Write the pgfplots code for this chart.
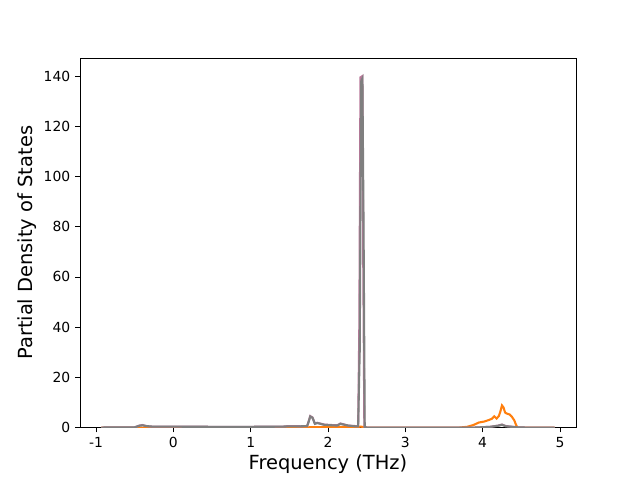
\documentclass[border=0pt]{standalone}
\usepackage{pgfplots}
\pgfplotsset{compat=1.18}
\usepackage{fontspec}
\setmainfont{DejaVu Sans}
\definecolor{mplorange}{HTML}{FF7F0E}
\definecolor{mplgray}{HTML}{7F7F7F}
\definecolor{mplpink}{HTML}{B9789A}
\begin{document}
\begin{tikzpicture}
\begin{axis}[
  scale only axis, width=357pt, height=266pt,
  xmin=-1.207, xmax=5.207, ymin=0, ymax=147.2,
  xtick={-1,0,1,2,3,4,5}, ytick={0,20,40,60,80,100,120,140},
  tick align=outside, tick style={black, line width=0.6pt},
  major tick length=3.5pt,
  xtick pos=bottom, ytick pos=left,
  tick label style={font=\fontsize{10}{12}\selectfont},
  /pgf/number format/assume math mode=true,
  xlabel={Frequency (THz)}, ylabel={Partial Density of States},
  label style={font=\fontsize{14}{16}\selectfont},
  xlabel style={yshift=2pt}, ylabel style={yshift=-2pt},
  axis line style={line width=0.6pt},
  clip=true,
]
\addplot[mplorange, line width=1.5pt] coordinates {
(-0.93,0) (1.7,0) (1.8,0.2) (2.0,0.2) (2.2,0.3) (2.38,0.2) (2.42,0.4) (2.46,0.2) (2.5,0)
(3.7,0) (3.8,0.3) (3.88,1) (3.95,2) (4.02,2.4) (4.08,3) (4.12,3.5) (4.15,4.5) (4.18,3.6)
(4.21,4.6) (4.23,6.5) (4.25,8.8) (4.27,8.0) (4.29,6.0) (4.31,5.6) (4.35,5.2) (4.38,4.2)
(4.41,2.8) (4.43,1.2) (4.45,0) (4.93,0)};
\addplot[mplpink, line width=1.5pt] coordinates {
(-0.93,0) (-0.5,0.1) (-0.44,0.8) (-0.4,1.0) (-0.35,0.6) (-0.28,0.4) (0,0.35) (0.5,0.3)
(1.0,0.3) (1.4,0.35) (1.5,0.6) (1.65,0.5) (1.73,0.6) (1.75,2.5) (1.77,4.6) (1.8,4.0)
(1.83,1.6) (1.86,1.9) (1.9,1.6) (1.95,1.2) (2.05,1.0) (2.12,0.9) (2.16,1.6) (2.2,1.3)
(2.26,0.8) (2.35,0.6) (2.39,0.6) (2.405,40) (2.42,139.5) (2.445,140) (2.455,70) (2.47,0.3)
(2.5,0) (3.9,0) (4.1,0.3) (4.2,0.8) (4.25,1.2) (4.3,0.6) (4.45,0.1) (4.55,0) (4.93,0)};
\addplot[mplgray, line width=1.5pt] coordinates {
(-0.93,0) (-0.5,0.1) (-0.44,0.7) (-0.4,0.9) (-0.35,0.6) (-0.28,0.4) (0,0.35) (0.5,0.3)
(1.0,0.3) (1.4,0.35) (1.5,0.5) (1.65,0.5) (1.73,0.6) (1.75,2.3) (1.77,4.4) (1.8,3.9)
(1.83,1.5) (1.86,1.8) (1.9,1.5) (1.95,1.1) (2.05,0.9) (2.12,0.8) (2.16,1.5) (2.2,1.2)
(2.26,0.8) (2.35,0.5) (2.39,0.5) (2.41,30) (2.43,138) (2.445,139) (2.46,80) (2.475,0.2)
(2.5,0) (3.9,0) (4.1,0.3) (4.2,0.7) (4.25,1.1) (4.3,0.5) (4.45,0.1) (4.55,0) (4.93,0)};
\end{axis}
\path (current axis.south west) ++(-57.6pt,-38.16pt) coordinate (bl);
\path (current axis.north east) ++(46.08pt,41.76pt) coordinate (tr);
\path[use as bounding box] (bl) rectangle (tr);
\end{tikzpicture}
\end{document}
